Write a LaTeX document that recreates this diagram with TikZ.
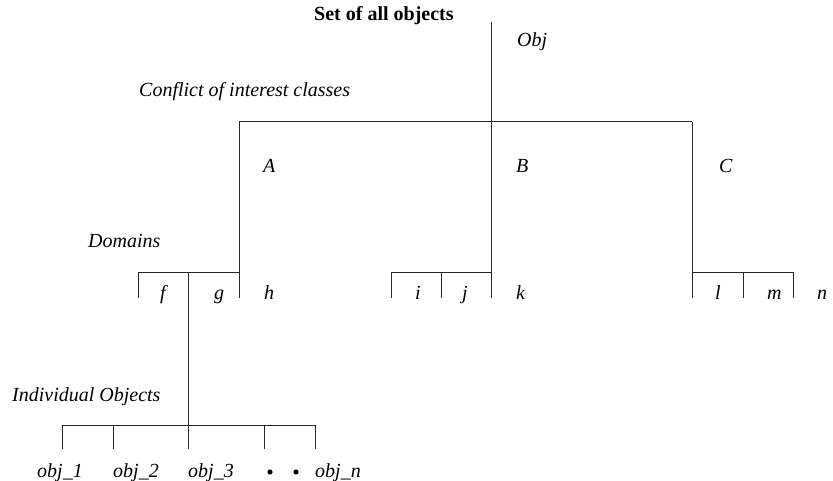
\documentclass[tikz,border=0pt]{standalone}
\usepackage{fontspec}
\setmainfont{Liberation Serif}
\tikzset{
  tree/.style={line width=1pt, draw=black!85},
  lbl/.style={anchor=base west, inner sep=0pt, font=\fontsize{20}{24}\selectfont\itshape},
  heading/.style={anchor=base west, inner sep=0pt, font=\fontsize{20}{24}\selectfont\bfseries},
}
\begin{document}
\begin{tikzpicture}[x=1pt,y=-1pt]
    \useasboundingbox (0,0) rectangle (833,481);

    % junctions of the tree
    \coordinate (root) at (491,22);
    \coordinate (cL) at (239,122);
    \coordinate (cR) at (692,122);
    \coordinate (dA1) at (138,273);
    \coordinate (dA2) at (188,273);
    \coordinate (dA3) at (239,273);
    \coordinate (dB1) at (391,273);
    \coordinate (dB2) at (441,273);
    \coordinate (dB3) at (491,273);
    \coordinate (dC1) at (692,273);
    \coordinate (dC2) at (743,273);
    \coordinate (dC3) at (793,273);
    \coordinate (o1) at (62,425);
    \coordinate (o2) at (113,425);
    \coordinate (o3) at (188,425);
    \coordinate (o4) at (264,425);
    \coordinate (o5) at (315,425);
    \foreach \t in {dA1,dA3,dB1,dB2,dB3,dC1,dC2,dC3}
        \path (\t) ++(0,25) coordinate (\t e);
    \foreach \t in {o1,o2,o3,o4,o5}
        \path (\t) ++(0,24) coordinate (\t e);

    % conflict of interest classes
    \draw[tree] (root) -- (dB3e);
    \draw[tree] (cL) -- (cR);
    \draw[tree] (cL) -- (dA3e);
    \draw[tree] (cR) -- (dC1e);

    % domains
    \draw[tree] (dA1e) -- (dA1) -- (dA3);
    \draw[tree] (dA2) -- (o3);
    \draw[tree] (dB1e) -- (dB1) -- (dB3);
    \draw[tree] (dB2) -- (dB2e);
    \draw[tree] (dC1) -- (dC3) -- (dC3e);
    \draw[tree] (dC2) -- (dC2e);

    % individual objects
    \draw[tree] (o1e) -- (o1) -- (o5) -- (o5e);
    \foreach \t in {o2,o3,o4}
        \draw[tree] (\t) -- (\t e);

    % level labels
    \node[heading] (setall) at (314,21) {Set of all objects};
    \node[lbl] (objroot) at (517,47) {Obj};
    \node[lbl] (conflict) at (139,97) {Conflict of interest classes};
    \node[lbl] (domains) at (88,248) {Domains};
    \node[lbl] (indiv) at (12,401) {Individual Objects};

    % classes
    \node[lbl] (clA) at (263,173) {A};
    \node[lbl] (clB) at (516,173) {B};
    \node[lbl] (clC) at (719,173) {C};

    % domain names
    \node[lbl] (domf) at (160,299) {f};
    \node[lbl] (domg) at (214,299) {g};
    \node[lbl] (domh) at (264,299) {h};
    \node[lbl] (domi) at (415,299) {i};
    \node[lbl] (domj) at (462,299) {j};
    \node[lbl] (domk) at (516,299) {k};
    \node[lbl] (doml) at (715,299) {l};
    \node[lbl] (domm) at (767,299) {m};
    \node[lbl] (domn) at (817,299) {n};

    % object names
    \node[lbl] (obja) at (37,477) {obj\_1};
    \node[lbl] (objb) at (113,477) {obj\_2};
    \node[lbl] (objc) at (188,477) {obj\_3};
    \node[lbl] (objn) at (315,477) {obj\_n};
    \fill (270,472) circle (2.6);
    \fill (296,472) circle (2.6);
\end{tikzpicture}
\end{document}
